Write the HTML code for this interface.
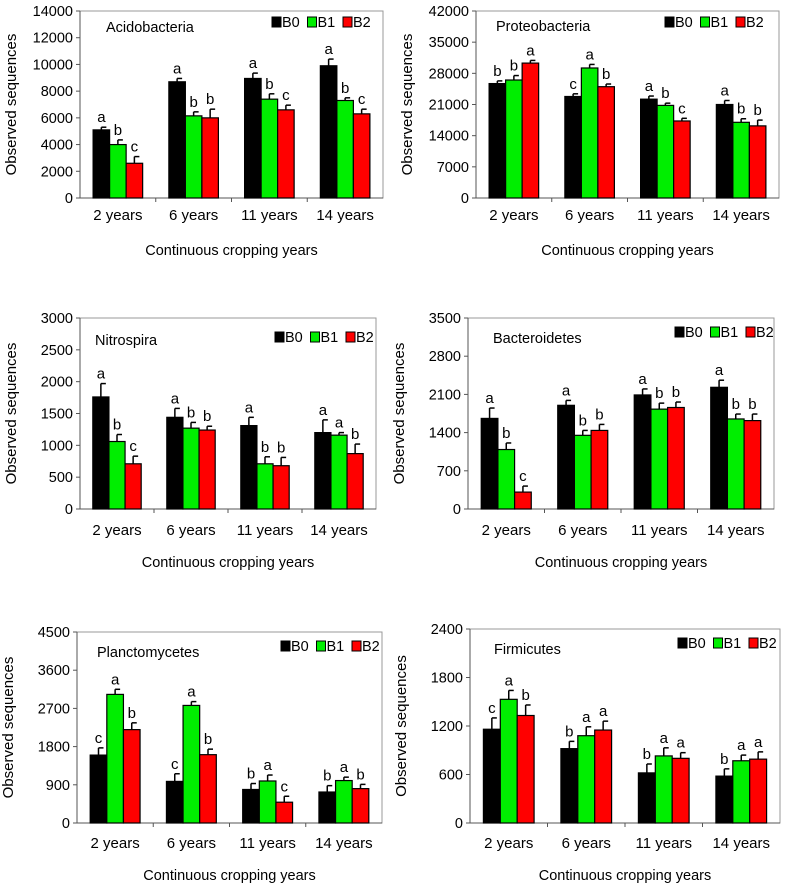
<!DOCTYPE html>
<html><head><meta charset="utf-8"><style>
body{margin:0;background:#fff;width:787px;height:887px;overflow:hidden}
svg{display:block;font-family:"Liberation Sans",Arial,sans-serif}
</style></head><body>
<svg id="fig" width="787" height="887" viewBox="0 0 787 887"></svg>
<script>
const categories = ["2 years","6 years","11 years","14 years"];
const seriesNames = ["B0","B1","B2"];
const seriesColors = ["#000000","#00ee00","#ff0000"];

const acidoB0=[5100,8700,8950,9900], acidoB1=[4000,6150,7400,7300], acidoB2=[2600,6000,6600,6300];
const acidoErr=[[200,250,400,500],[350,300,400,200],[500,650,350,350]];
const acidoLetters=[["a","a","a","a"],["b","b","b","b"],["c","b","c","c"]];
const acidoTicks=[0,2000,4000,6000,8000,10000,12000,14000];

const proteoB0=[25700,22800,22200,21000], proteoB1=[26500,29200,20800,17000], proteoB2=[30300,25000,17300,16200];
const proteoErr=[[600,600,700,900],[1000,800,500,800],[600,600,600,1300]];
const proteoLetters=[["b","c","a","a"],["b","a","b","b"],["a","b","c","b"]];
const proteoTicks=[0,7000,14000,21000,28000,35000,42000];

const nitroB0=[1760,1440,1310,1200], nitroB1=[1060,1270,710,1160], nitroB2=[710,1240,680,870];
const nitroErr=[[210,140,130,200],[110,90,110,40],[120,60,130,150]];
const nitroLetters=[["a","a","a","a"],["b","b","b","a"],["c","b","b","b"]];
const nitroTicks=[0,500,1000,1500,2000,2500,3000];

const bactB0=[1660,1900,2090,2230], bactB1=[1090,1350,1830,1650], bactB2=[310,1440,1860,1620];
const bactErr=[[190,90,110,130],[120,90,110,90],[110,110,100,120]];
const bactLetters=[["a","a","a","a"],["b","b","b","b"],["c","b","b","b"]];
const bactTicks=[0,700,1400,2100,2800,3500];

const planctoB0=[1600,980,790,730], planctoB1=[3030,2770,990,1000], planctoB2=[2200,1610,490,810];
const planctoErr=[[170,180,140,150],[120,90,140,80],[160,130,140,100]];
const planctoLetters=[["c","c","b","b"],["a","a","a","a"],["b","b","c","b"]];
const planctoTicks=[0,900,1800,2700,3600,4500];

const firmiB0=[1160,920,620,580], firmiB1=[1530,1080,830,770], firmiB2=[1330,1150,800,790];
const firmiErr=[[140,90,110,90],[110,110,100,70],[130,110,70,90]];
const firmiLetters=[["c","b","b","b"],["a","a","a","a"],["b","a","a","a"]];
const firmiTicks=[0,600,1200,1800,2400];

const panels=[
 {name:"acidobacteria",title:"Acidobacteria",vals:[acidoB0,acidoB1,acidoB2],err:acidoErr,let:acidoLetters,ticks:acidoTicks,L:80,R:383,T:11,B:198,tx:106,ty:27,lx:272,ly:22,catY:215,xtY:250},
 {name:"proteobacteria",title:"Proteobacteria",vals:[proteoB0,proteoB1,proteoB2],err:proteoErr,let:proteoLetters,ticks:proteoTicks,L:476,R:779,T:11,B:198,tx:496,ty:26,lx:665,ly:22,catY:215,xtY:250},
 {name:"nitrospira",title:"Nitrospira",vals:[nitroB0,nitroB1,nitroB2],err:nitroErr,let:nitroLetters,ticks:nitroTicks,L:80,R:376,T:318,B:509,tx:95,ty:340,lx:275,ly:337,catY:530,xtY:562},
 {name:"bacteroidetes",title:"Bacteroidetes",vals:[bactB0,bactB1,bactB2],err:bactErr,let:bactLetters,ticks:bactTicks,L:468,R:774,T:318,B:509,tx:493,ty:338,lx:675,ly:332,catY:530,xtY:562},
 {name:"planctomycetes",title:"Planctomycetes",vals:[planctoB0,planctoB1,planctoB2],err:planctoErr,let:planctoLetters,ticks:planctoTicks,L:77,R:382,T:632,B:823,tx:97,ty:652,lx:281,ly:646,catY:843,xtY:875},
 {name:"firmicutes",title:"Firmicutes",vals:[firmiB0,firmiB1,firmiB2],err:firmiErr,let:firmiLetters,ticks:firmiTicks,L:470,R:780,T:629,B:823,tx:494,ty:649,lx:678,ly:643,catY:843,xtY:875}
];
const NS="http://www.w3.org/2000/svg";
const fig=document.getElementById("fig");
function mk(tag,attrs,parent,txt){const e=document.createElementNS(NS,tag);for(const k in attrs)e.setAttribute(k,attrs[k]);if(txt!==undefined)e.textContent=txt;parent.appendChild(e);return e;}

panels.forEach(p=>{
  const g=mk("g",{},fig);
  
  
  const maxV=p.ticks[p.ticks.length-1];
  const y=v=>p.B-(v/maxV)*(p.B-p.T);
  const gw=(p.R-p.L)/4, bw=gw*0.218, off=(gw-3*bw)/2;
  const x=(i,s)=>p.L+i*gw+off+s*bw;
  const fr=mk("rect",{x:p.L,y:p.T,width:p.R-p.L,height:p.B-p.T,fill:"none",stroke:"#999","stroke-width":1},g);
  
  
  p.ticks.forEach(t=>{
    mk("line",{x1:p.L-4,x2:p.L,y1:y(t),y2:y(t),stroke:"#555"},g);
    const tl=mk("text",{x:p.L-7,y:y(t)+5,"text-anchor":"end","font-size":"14.5",fill:"#000"},g,t);
    
    
  });
  mk("line",{x1:p.L,x2:p.L,y1:p.T,y2:p.B,stroke:"#555"},g);
  mk("line",{x1:p.L,x2:p.R,y1:p.B,y2:p.B,stroke:"#555"},g);
  for(let i=1;i<4;i++) mk("line",{x1:p.L+i*gw,x2:p.L+i*gw,y1:p.B,y2:p.B+4,stroke:"#555"},g);
  p.vals.forEach((arr,s)=>{
    arr.forEach((v,i)=>{
      const e=p.err[s][i];
      const cx=x(i,s)+bw/2;
      const el=mk("line",{x1:cx,x2:cx,y1:y(v),y2:y(v+e),stroke:"#000","stroke-width":1.5},g);
      
      
      mk("line",{x1:cx,x2:cx+5,y1:y(v+e),y2:y(v+e),stroke:"#000","stroke-width":1.5},g);
      const r=mk("rect",{x:x(i,s),y:y(v),width:bw,height:p.B-y(v),fill:seriesColors[s],stroke:"#000","stroke-width":1.2},g);
      
      
      const lt=mk("text",{x:cx,y:y(v+e)-5,"text-anchor":"middle","font-size":"15",fill:"#000"},g,p.let[s][i]);
      
      
    });
  });
  categories.forEach((c,i)=>{
    const t=mk("text",{x:p.L+i*gw+gw/2,y:p.catY+5,"text-anchor":"middle","font-size":"15",fill:"#000"},g,c);
    
    
  });
  const xt=mk("text",{x:(p.L+p.R)/2,y:p.xtY+5,"text-anchor":"middle","font-size":"14.5",fill:"#000"},g,"Continuous cropping years");
  
  
  const yc=(p.T+p.B)/2, yx=p.L-64;
  const yt=mk("text",{x:yx,y:yc,"text-anchor":"middle","font-size":"15",fill:"#000",transform:`rotate(-90 ${yx} ${yc})`},g,"Observed sequences");
  
  
  const tt=mk("text",{x:p.tx,y:p.ty+5,"font-size":"14.5",fill:"#000"},g,p.title);
  
  
  seriesNames.forEach((n,s)=>{
    const lg=mk("g",{},g);
    
    
    const lx=p.lx+s*35.5;
    mk("rect",{x:lx,y:p.ly-5,width:9,height:10,fill:seriesColors[s],stroke:"#000"},lg);
    mk("text",{x:lx+10,y:p.ly+5,"font-size":"14.5",fill:"#000"},lg,n);
  });
});
</script>
</body></html>
